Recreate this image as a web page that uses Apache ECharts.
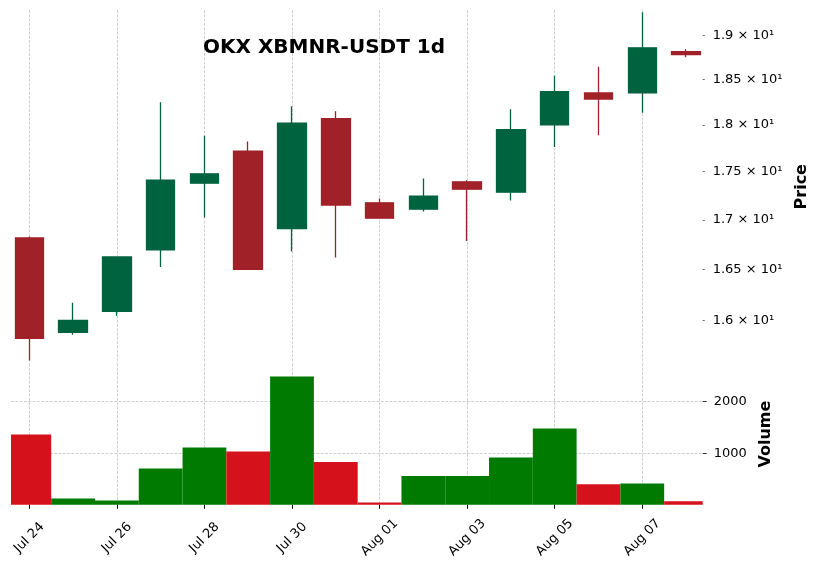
<!DOCTYPE html>
<html><head><meta charset="utf-8">
<script src="https://cdn.jsdelivr.net/npm/echarts@6/dist/echarts.min.js"></script>
<style>html,body{margin:0;padding:0;background:#fff}#c{width:818px;height:570px}</style>
</head><body><div id="c"></div>
<script>
// ---- data ----
const dates = ['Jul 24','Jul 25','Jul 26','Jul 27','Jul 28','Jul 29','Jul 30','Jul 31',
               'Aug 01','Aug 02','Aug 03','Aug 04','Aug 05','Aug 06','Aug 07','Aug 08'];
const opens  = [16.815,15.885,16.087,16.694,17.379,17.718,16.911,18.067,17.174,17.109,17.393,17.285,18.000,18.350,18.350,18.813];
const closes = [15.827,16.000,16.623,17.411,17.477,16.500,18.020,17.151,17.016,17.244,17.316,17.948,18.364,18.283,18.855,18.779];
const lows   = [15.618,15.862,16.045,16.523,17.023,16.494,16.677,16.617,17.010,17.085,16.784,17.199,17.761,17.887,18.133,18.750];
const highs  = [16.830,16.172,16.630,18.247,17.883,17.822,18.203,18.148,17.220,17.429,17.410,18.170,18.542,18.643,19.265,18.840];
const volumes = [1371,140,102,717,1121,1044,2487,840,63,571,571,929,1487,410,429,83];
const priceTicks = [16,16.5,17,17.5,18,18.5,19];
const volumeTicks = [1000,2000];
const dateTickIdx = [0,2,4,6,8,10,12,14];

// ---- styles ----
const UP = '#006340', DOWN = '#a02128';
const VUP = '#007a00', VDOWN = '#d5111b';
const FONT = 'DejaVu Sans';
const gridLine = {show:true, lineStyle:{color:'#c4c4c4', width:0.8, type:[3,1.3]}};

const candleData = dates.map((d,i)=>[i, opens[i], closes[i], lows[i], highs[i]]);
const volData = volumes.map((v,i)=>{
  const prev = i===0 ? opens[0] : closes[i-1];
  return {value:[i, v], itemStyle:{color: closes[i] >= prev ? VUP : VDOWN}};
});

const xMin = -0.418, xMax = 15.38;
const volMin = 0.3*Math.min(...volumes), volMax = 1.1*Math.max(...volumes);

function priceLabel(v){
  let p = v < 5 ? Math.pow(10, v) : v;
  const m = parseFloat((p/10).toFixed(3));
  return m + ' \u00d7 10\u00b9';
}

// volume bar: one day wide, clipped to the panel
function renderVolume(params, api){
  const x = api.value(0), v = api.value(1);
  const p0 = api.coord([x - 0.5, volMin]);
  const p1 = api.coord([x + 0.5, v]);
  const cs = params.coordSys;
  const shape = echarts.graphic.clipRectByRect(
    {x:p0[0], y:p1[1], width:p1[0]-p0[0], height:p0[1]-p1[1]},
    {x:cs.x, y:cs.y, width:cs.width, height:cs.height});
  return shape && {type:'rect', shape:shape, style:api.style()};
}

const chart = echarts.init(document.getElementById('c'));
chart.setOption({
  animation:false,
  backgroundColor:'#fff',
  title:{text:'OKX XBMNR-USDT 1d', left:319, top:33, textAlign:'center',
    textStyle:{fontFamily:FONT, fontWeight:'bold', fontSize:20, color:'#000'}},
  grid:[
    {left:11, right:115.3, top:10, height:353.5, containLabel:false, outerBoundsMode:'none'},
    {left:11, right:115.3, top:363.5, height:141.2, containLabel:false, outerBoundsMode:'none'}
  ],
  xAxis:[
    {type:'value', gridIndex:0, min:xMin, max:xMax,
     axisLine:{show:false, onZero:false}, axisLabel:{show:false, customValues:dateTickIdx},
     axisTick:{show:false, customValues:dateTickIdx}, splitLine:gridLine},
    {type:'value', gridIndex:1, min:xMin, max:xMax,
     axisLine:{show:false, onZero:false},
     axisTick:{show:true, customValues:dateTickIdx, length:4, lineStyle:{color:'#000', width:1}},
     axisLabel:{show:true, customValues:dateTickIdx, rotate:45, margin:33,
       align:'center', verticalAlign:'middle',
       fontFamily:FONT, fontSize:13, color:'#000',
       formatter:v=>dates[Math.round(v)]},
     splitLine:gridLine}
  ],
  yAxis:[
    {type:'log', gridIndex:0, position:'right', min:15.59, max:19.29,
     name:'Price', nameLocation:'middle', nameRotate:90, nameGap:87,
     nameTextStyle:{fontFamily:FONT, fontWeight:'bold', fontSize:16, color:'#000'},
     axisLine:{show:false, onZero:false}, splitLine:{show:false}, minorTick:{show:false}, minorSplitLine:{show:false},
     axisTick:{show:true, customValues:priceTicks, length:2, lineStyle:{color:'#000', width:0.6}},
     axisLabel:{show:true, customValues:priceTicks, margin:10, fontFamily:FONT, fontSize:13, color:'#000',
       formatter:priceLabel}},
    {type:'value', gridIndex:1, position:'right', min:volMin, max:volMax,
     name:'Volume', nameLocation:'middle', nameRotate:90, nameGap:52,
     nameTextStyle:{fontFamily:FONT, fontWeight:'bold', fontSize:16, color:'#000'},
     axisLine:{show:false, onZero:false},
     axisTick:{show:true, customValues:volumeTicks, length:4, lineStyle:{color:'#000', width:0.8}},
     axisLabel:{show:true, customValues:volumeTicks, margin:11, fontFamily:FONT, fontSize:13, color:'#000',
       formatter:v=>String(Math.round(v))},
     splitLine:gridLine}
  ],
  series:[
    {type:'candlestick', xAxisIndex:0, yAxisIndex:0, data:candleData,
     encode:{x:0, y:[1,2,3,4]}, barWidth:29, clip:true,
     itemStyle:{color:UP, color0:DOWN, borderColor:UP, borderColor0:DOWN, borderWidth:1.3}},
    {type:'custom', xAxisIndex:1, yAxisIndex:1, data:volData, renderItem:renderVolume,
     encode:{x:0, y:1}}
  ]
});
</script></body></html>
